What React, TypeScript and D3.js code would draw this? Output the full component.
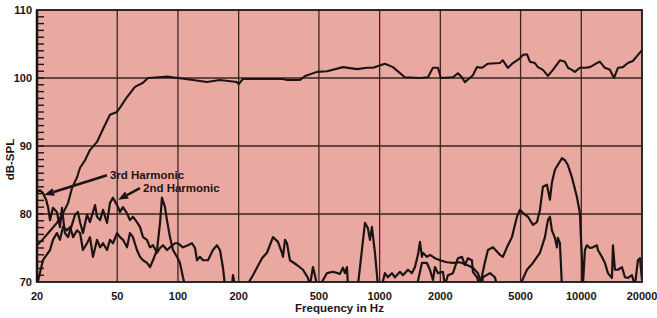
import React, { useRef, useEffect } from "react";
import * as d3 from "d3";

// [frequency Hz, dB-SPL]
const fundamental: [number, number][] = [
  [20, 75.4], [21.4, 76.3], [23.2, 77.5], [25.1, 78.7], [26.9, 80.1], [28.5, 81.6],
  [29.8, 83.8], [31.6, 85.4], [32.7, 86.8], [34.6, 87.9], [36.6, 89.4], [39.7, 90.6],
  [42.5, 92.5], [46, 94.6], [49.8, 95.0], [52, 95.8], [55.9, 97.2], [61.2, 98.7],
  [67.1, 99.3], [71, 100.0], [80, 100.1], [88.3, 100.2], [100, 100.0], [118.7, 99.7],
  [139.3, 99.4], [161.5, 99.7], [196, 99.4], [200, 99.1], [210, 99.85], [332, 99.85],
  [347, 99.7], [403, 99.7], [427, 100.3], [489, 100.9], [548, 101.0], [658, 101.6],
  [773, 101.3], [865, 101.5], [927, 101.5], [1062, 102.1], [1164, 101.6], [1334, 100.1],
  [1584, 100.0], [1736, 100.1], [1838, 101.5], [1946, 101.5], [2014, 100.0], [2308, 100.1],
  [2444, 100.7], [2559, 100.1], [2648, 99.4], [2902, 100.4], [3036, 101.6], [3215, 101.5],
  [3444, 102.1], [3946, 102.2], [4084, 102.6], [4326, 101.5], [4581, 102.2], [4962, 102.9],
  [5136, 103.4], [5375, 103.5], [5563, 102.4], [5889, 102.2], [6096, 101.6], [6455, 101.2],
  [6832, 100.3], [7234, 101.2], [7834, 102.6], [8298, 102.4], [8590, 101.5], [8980, 101.2],
  [9290, 100.9], [9840, 101.5], [10420, 101.5], [11040, 101.6], [11940, 102.2], [12360, 102.4],
  [13090, 101.5], [13870, 101.2], [14520, 100.0], [15200, 101.5], [16080, 101.6], [17020, 102.2],
  [18020, 102.5], [19100, 103.4], [20000, 104.1],
];

const harmonicA: [number, number][] = [
  [20, 83.2], [20.7, 83.5], [21.4, 83.1], [22.2, 82.1], [22.7, 81.0], [23.2, 79.1],
  [24.0, 80.9], [25.1, 80.3], [26.0, 78.1], [26.6, 80.9], [27.5, 77.2], [28.5, 76.6],
  [29.8, 78.4], [30.9, 79.9], [31.9, 80.3], [32.7, 78.8], [33.8, 77.2], [35.4, 79.9],
  [36.6, 78.8], [38.8, 81.3], [39.7, 79.6], [41.1, 79.1], [42.5, 80.6], [44.5, 78.7],
  [46.0, 81.6], [47.6, 82.4], [49.9, 81.3], [51.6, 80.3], [53.4, 81.0], [55.9, 80.1],
  [57.8, 79.1], [59.8, 79.6], [62.6, 78.8], [64.8, 78.1], [67.1, 76.6], [70.2, 76.2],
  [72.7, 75.1], [75.2, 75.4], [78.7, 74.3], [81.5, 75.0], [84.3, 75.4], [88.2, 74.7],
  [91.3, 75.1], [96.7, 75.7], [100, 75.7], [105.9, 75.1], [112.1, 75.4], [117.4, 75.7],
  [121.5, 75.0], [124.3, 73.2], [128.6, 73.7], [133.1, 73.2], [140.9, 73.2], [149.1, 74.7],
  [156.1, 75.4], [161.6, 74.7], [167.2, 72.1], [171, 69.5], [185.3, 69.5], [187.4, 71.0],
  [191.7, 69.5], [219.9, 69.5], [235.5, 71.0], [261, 73.5], [276.3, 74.3], [295.9, 76.6],
  [313.3, 75.9], [327.9, 74.3], [331.7, 73.7], [339.3, 76.2], [347.2, 75.7], [359.2, 73.2],
  [389.1, 72.5], [416.8, 71.8], [441.2, 70.6], [451.4, 69.5], [467.1, 72.2], [477.9, 71.0],
  [488.9, 69.5], [505.9, 69.5], [548.1, 71.3], [587.1, 71.5], [635.9, 71.2], [657.9, 72.1],
  [673.1, 71.3], [688.7, 72.2], [696.6, 69.5], [780.7, 69.5], [845.8, 78.7], [875.1, 77.9],
  [895.4, 76.2], [916, 78.1], [947.9, 74.3], [980.9, 69.5], [1026.7, 69.5], [1062, 71.3],
  [1099, 70.7], [1151, 71.3], [1191, 70.7], [1261, 71.5], [1305, 71.0], [1382, 71.8],
  [1446, 71.3], [1497, 72.2], [1549, 74.0], [1585, 75.9], [1621, 73.7], [1640, 74.3],
  [1716, 73.7], [1776, 74.0], [1881, 73.5], [1991, 73.2], [2156, 72.9], [2310, 72.8],
  [2502, 72.9], [2710, 72.5], [2902, 72.1], [3072, 71.3], [3216, 69.5], [3252, 70.7],
  [3524, 71.3], [3730, 70.7], [3816, 69.5], [4963, 69.5], [5376, 71.8], [5757, 72.8],
  [6236, 74.3], [6602, 76.6], [6832, 79.1], [6990, 79.6], [7150, 77.6], [7400, 76.5],
  [7570, 75.1], [7656, 76.5], [7834, 75.7], [8014, 69.5],
];

const harmonicB: [number, number][] = [
  [20, 69.5], [21.4, 73.2], [23.2, 74.7], [24.0, 76.2], [25.1, 77.2], [26.0, 76.2],
  [26.9, 78.1], [28.2, 77.6], [29.2, 78.1], [30.2, 76.6], [31.6, 77.6], [32.7, 77.2],
  [33.8, 74.7], [35.4, 75.7], [36.6, 76.6], [37.9, 73.7], [39.7, 76.2], [41.1, 75.1],
  [42.5, 75.7], [44.5, 74.7], [46.0, 76.2], [47.6, 75.7], [49.9, 77.2], [51.6, 76.6],
  [53.4, 76.2], [55.9, 75.1], [57.8, 77.2], [59.8, 76.6], [62.6, 74.7], [64.8, 73.7],
  [67.1, 73.2], [70.2, 72.8], [72.7, 72.2], [75.2, 73.2], [78.7, 74.7], [81.5, 78.7],
  [83.3, 82.4], [86.2, 81.0], [88.2, 79.1], [91.3, 76.6], [94.5, 74.7], [98.9, 73.7],
  [102.3, 72.8], [105.9, 70.7], [108.4, 69.5], [1531, 69.5], [1621, 72.8], [1716, 72.8],
  [1776, 71.8], [1838, 70.3], [1881, 72.2], [1946, 71.3], [2060, 71.5], [2108, 69.5],
  [2181, 71.0], [2310, 71.3], [2445, 73.5], [2560, 73.7], [2649, 72.5], [2741, 73.5],
  [2869, 73.2], [2902, 71.5], [3037, 70.7], [3143, 69.5], [3328, 72.9], [3444, 74.7],
  [3646, 75.1], [3950, 74.0], [4087, 73.7], [4278, 75.1], [4530, 76.6], [4796, 79.6],
  [4963, 80.6], [5255, 79.9], [5438, 79.6], [5757, 78.4], [6026, 78.8], [6236, 80.6],
  [6452, 84.0], [6754, 84.3], [6990, 82.1], [7150, 84.6], [7400, 86.5], [8014, 88.2],
  [8294, 87.9], [8582, 87.2], [8984, 85.4], [9512, 82.5], [9844, 80.1], [9956, 76.6],
  [10072, 73.7], [10186, 69.5], [10424, 74.7], [10664, 75.4], [11036, 75.0], [11420, 75.1],
  [11954, 75.4], [12090, 74.7], [12652, 73.7], [13100, 72.8], [13554, 71.3], [14190, 70.6],
  [14352, 75.4], [14684, 71.8], [15196, 71.8], [15906, 72.2], [16460, 70.7], [17034, 70.6],
  [17826, 71.0], [18446, 69.5], [19090, 73.2], [19530, 73.5], [20000, 70.3],
];

const xTicks = [20, 50, 100, 200, 500, 1000, 2000, 5000, 10000, 20000];
const yTicks = [70, 80, 90, 100, 110];

// label text, arrow tip [Hz, dB], arrow tail [Hz, dB], text start [Hz, dB]
const callouts = [
  { label: "3rd Harmonic", tip: [21.7, 82.8], tail: [44.5, 85.7], text: [46, 85.2] },
  { label: "2nd Harmonic", tip: [50.5, 82.1], tail: [64.8, 83.8], text: [67.1, 83.3] },
];

const App = () => {
  const ref = useRef<SVGSVGElement>(null);

  useEffect(() => {
    document.body.style.margin = "0";
    const width = 657;
    const height = 318;
    const m = { left: 37, right: 15, top: 10, bottom: 36 };
    const ink = "#1c1414";
    const font = "'Liberation Sans', Arial, sans-serif";

    const x = d3.scaleLog().domain([20, 20000]).range([m.left, width - m.right]);
    const y = d3.scaleLinear().domain([70, 110]).range([height - m.bottom, m.top]);

    const svg = d3.select(ref.current).attr("width", width).attr("height", height);
    svg.selectAll("*").remove();

    svg.append("defs").append("clipPath").attr("id", "plot")
      .append("rect")
      .attr("x", m.left).attr("y", m.top)
      .attr("width", width - m.left - m.right)
      .attr("height", height - m.top - m.bottom);

    svg.append("rect")
      .attr("x", m.left).attr("y", m.top)
      .attr("width", width - m.left - m.right)
      .attr("height", height - m.top - m.bottom)
      .attr("fill", "#eaa9a0");

    // grid
    svg.append("g").selectAll("line").data(xTicks.slice(1, -1)).enter().append("line")
      .attr("x1", (d) => x(d)).attr("x2", (d) => x(d))
      .attr("y1", m.top).attr("y2", height - m.bottom)
      .attr("stroke", "#3a2422").attr("stroke-width", 1.3);
    svg.append("g").selectAll("line").data(yTicks.slice(1, -1)).enter().append("line")
      .attr("x1", m.left).attr("x2", width - m.right)
      .attr("y1", (d) => y(d)).attr("y2", (d) => y(d))
      .attr("stroke", "#3a2422").attr("stroke-width", 1.3);

    // minor ticks every dB on the left edge
    svg.append("g").selectAll("line").data(d3.range(71, 110)).enter().append("line")
      .attr("x1", m.left).attr("x2", m.left + 7)
      .attr("y1", (d) => y(d)).attr("y2", (d) => y(d))
      .attr("stroke", ink).attr("stroke-width", 1.4);

    const line = d3.line<[number, number]>().x((d) => x(d[0])).y((d) => y(d[1]));
    const curves = svg.append("g").attr("clip-path", "url(#plot)");
    [harmonicA, harmonicB].forEach((s) =>
      curves.append("path").datum(s).attr("d", line).attr("fill", "none")
        .attr("stroke", ink).attr("stroke-width", 2.2).attr("stroke-linejoin", "round")
    );
    curves.append("path").datum(fundamental).attr("d", line).attr("fill", "none")
      .attr("stroke", ink).attr("stroke-width", 2.1).attr("stroke-linejoin", "round");

    // frame
    svg.append("rect")
      .attr("x", m.left).attr("y", m.top)
      .attr("width", width - m.left - m.right)
      .attr("height", height - m.top - m.bottom)
      .attr("fill", "none").attr("stroke", ink).attr("stroke-width", 1.8);
    svg.append("line")
      .attr("x1", m.left).attr("x2", m.left).attr("y1", m.top).attr("y2", height - m.bottom)
      .attr("stroke", ink).attr("stroke-width", 2.5);

    // tick labels
    svg.append("g").selectAll("text").data(yTicks).enter().append("text")
      .attr("x", m.left - 5).attr("y", (d) => y(d)).attr("dy", "0.35em")
      .attr("text-anchor", "end").style("font-family", font).style("font-weight", "bold")
      .style("font-size", "11px").attr("fill", ink).text((d) => d);
    svg.append("g").selectAll("text").data(xTicks).enter().append("text")
      .attr("x", (d) => x(d)).attr("y", height - m.bottom + 18)
      .attr("text-anchor", "middle").style("font-family", font).style("font-weight", "bold")
      .style("font-size", "11px").attr("fill", ink).text((d) => d);

    svg.append("text")
      .attr("x", (m.left + width - m.right) / 2).attr("y", height - 6)
      .attr("text-anchor", "middle").style("font-family", font).style("font-weight", "bold")
      .style("font-size", "11.5px").attr("fill", ink).text("Frequency in Hz");
    svg.append("text")
      .attr("transform", `translate(14, ${y(88)}) rotate(-90)`)
      .attr("text-anchor", "middle").style("font-family", font).style("font-weight", "bold")
      .style("font-size", "11.5px").attr("fill", ink).text("dB-SPL");

    // callouts
    callouts.forEach((c) => {
      const tx = x(c.tip[0]), ty = y(c.tip[1]);
      const sx = x(c.tail[0]), sy = y(c.tail[1]);
      const ang = Math.atan2(ty - sy, tx - sx);
      const hl = 10, hw = 4;
      const bx = tx - hl * Math.cos(ang), by = ty - hl * Math.sin(ang);
      svg.append("line").attr("x1", sx).attr("y1", sy).attr("x2", bx).attr("y2", by)
        .attr("stroke", ink).attr("stroke-width", 2.6);
      svg.append("path")
        .attr("d", `M${tx},${ty}L${bx + hw * Math.sin(ang)},${by - hw * Math.cos(ang)}L${bx - hw * Math.sin(ang)},${by + hw * Math.cos(ang)}Z`)
        .attr("fill", ink);
      svg.append("text").attr("x", x(c.text[0])).attr("y", y(c.text[1]))
        .style("font-family", font).style("font-weight", "bold").style("font-size", "11.5px")
        .attr("fill", ink).text(c.label);
    });
  }, []);

  return (
    <div>
      <svg ref={ref} style={{ display: "block" }}></svg>
    </div>
  );
};

export default App;
